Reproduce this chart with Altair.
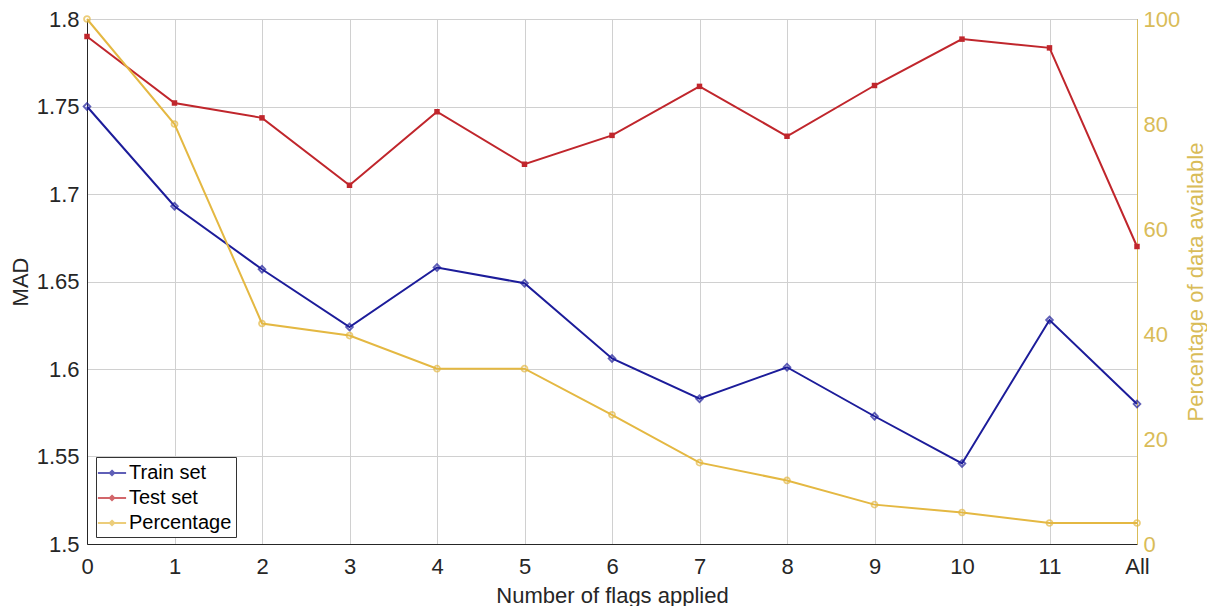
import altair as alt
import pandas as pd

# ---- data ----
flags = ["0", "1", "2", "3", "4", "5", "6", "7", "8", "9", "10", "11", "All"]
train_mad = [1.750, 1.693, 1.657, 1.624, 1.658, 1.649, 1.606, 1.583, 1.601, 1.573, 1.546, 1.628, 1.580]
test_mad = [1.790, 1.752, 1.7435, 1.705, 1.747, 1.717, 1.7335, 1.7615, 1.733, 1.762, 1.7885, 1.7835, 1.670]
percentage = [100, 80, 42, 39.7, 33.4, 33.4, 24.6, 15.5, 12.1, 7.5, 6.0, 4.0, 4.0]

series_names = ["Train set", "Test set", "Percentage"]
series_colors = ["#1C1C9A", "#C0262C", "#E4B842"]
left_ticks = [1.5, 1.55, 1.6, 1.65, 1.7, 1.75, 1.8]
right_ticks = [0, 20, 40, 60, 80, 100]

TEXT = "#262626"
RIGHT_AX = "#D9BC58"
FONT = "Liberation Sans"

df_mad = pd.DataFrame(
    [{"flag": f, "series": "Train set", "val": v} for f, v in zip(flags, train_mad)]
    + [{"flag": f, "series": "Test set", "val": v} for f, v in zip(flags, test_mad)]
)
df_pct = pd.DataFrame([{"flag": f, "series": "Percentage", "pct": v} for f, v in zip(flags, percentage)])

color_scale = alt.Scale(domain=series_names, range=series_colors)
legend_path = "M-1.3,0L1.3,0M0,-0.2L0.2,0L0,0.2L-0.2,0Z"
legend = alt.Legend(
    title=None, orient="none", legendX=9, legendY=438,
    padding=4, strokeColor="#333333", fillColor="white", cornerRadius=0,
    labelFont=FONT, labelFontSize=20, labelColor="black", labelOffset=5,
    symbolType=legend_path, symbolSize=470, symbolStrokeWidth=2,
    rowPadding=3,
)

X = alt.X(
    "flag:O", sort=flags,
    scale=alt.Scale(type="point", padding=0),
    axis=alt.Axis(title="Number of flags applied", labelAngle=0, grid=True,
                  labelPadding=12, titlePadding=8, ticks=False),
)

color_enc = alt.Color("series:N", scale=color_scale, legend=legend)

base_mad = alt.Chart(df_mad).encode(
    x=X,
    y=alt.Y("val:Q", scale=alt.Scale(domain=[1.5, 1.8], nice=False, zero=False),
            axis=alt.Axis(title="MAD", orient="left", values=left_ticks, format=".2~f",
                          grid=True, ticks=False, labelPadding=8, titlePadding=4)),
    color=color_enc,
)
mad_line = base_mad.mark_line(strokeWidth=2)
train_pts = base_mad.transform_filter("datum.series == 'Train set'").mark_point(
    shape="diamond", size=45, filled=False, strokeWidth=1.8)
test_pts = base_mad.transform_filter("datum.series == 'Test set'").mark_point(
    shape="square", size=30, filled=True, opacity=1)
left = alt.layer(mad_line, train_pts, test_pts)

base_pct = alt.Chart(df_pct).encode(
    x=X,
    y=alt.Y("pct:Q", scale=alt.Scale(domain=[0, 100], nice=False),
            axis=alt.Axis(title="Percentage of data available", orient="right", values=right_ticks,
                          grid=False, ticks=False, labelPadding=6, titlePadding=28, titleAngle=270,
                          labelColor=RIGHT_AX, titleColor=RIGHT_AX, domainColor=RIGHT_AX)),
    color=color_enc,
)
pct_line = base_pct.mark_line(strokeWidth=2)
pct_pts = base_pct.mark_point(shape="circle", size=35, filled=False, strokeWidth=1.8)
right = alt.layer(pct_line, pct_pts)

chart = (
    alt.layer(left, right)
    .resolve_scale(y="independent")
    .properties(
        width=1050, height=525,
        autosize=alt.AutoSizeParams(type="none"),
        padding={"left": 79, "top": 11, "right": 70, "bottom": 62},
        background="white",
    )
    .configure_view(stroke="#111111", strokeWidth=1)
    .configure_axis(
        labelFont=FONT, titleFont=FONT, labelFontSize=22, titleFontSize=22,
        titleFontWeight="normal", labelColor=TEXT, titleColor=TEXT,
        gridColor="#D0D0D0", gridWidth=1, domainColor=TEXT, domainWidth=1,
    )
)

chart.save("out.html", embed_options={"renderer": "svg", "actions": False})
